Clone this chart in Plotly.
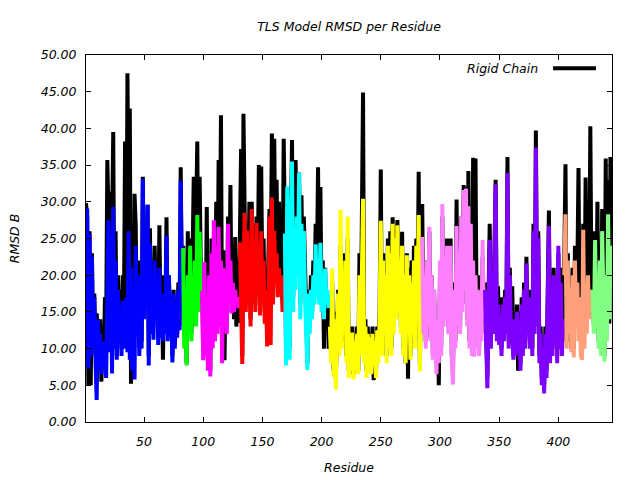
import plotly.graph_objects as go

# ---------------- data ----------------
title_text = "TLS Model RMSD per Residue"
x_label = "Residue"
y_label = "RMSD B"
legend_label = "Rigid Chain"
x_ticks = [50, 100, 150, 200, 250, 300, 350, 400]
y_ticks = [0, 5, 10, 15, 20, 25, 30, 35, 40, 45, 50]

# Rigid chain RMSD per residue (residues 1..445)
rigid_chain = [
    # 1-82
    29.8, 28.0, 5.0, 26.0, 5.0, 23.0, 11.0, 17.5, 9.0, 14.8,
    12.2, 9.5, 14.0, 5.5, 12.0, 8.0, 17.0, 12.0, 35.7, 28.3,
    31.4, 10.0, 26.0, 39.5, 12.0, 26.0, 9.0, 20.0, 12.0, 18.0,
    10.0, 20.0, 14.0, 38.2, 12.0, 47.5, 27.0, 42.7, 5.2, 22.0,
    8.0, 31.1, 26.8, 12.0, 22.0, 10.0, 18.0, 11.0, 33.4, 15.0,
    26.0, 16.0, 29.6, 9.0, 26.4, 13.0, 20.0, 14.0, 24.0, 16.0,
    20.0, 12.0, 26.8, 13.0, 20.0, 8.5, 19.0, 14.0, 27.9, 12.0,
    20.0, 14.0, 17.0, 9.0, 18.0, 11.0, 16.0, 12.0, 19.0, 13.0,
    34.7, 18.0,
    # 83-98
    24.0, 12.0, 20.0, 8.0, 26.0, 14.0, 25.0, 12.0, 22.0, 33.4,
    18.0, 30.0, 38.2, 16.0, 33.4, 20.0,
    # 99-130
    20.0, 9.7, 20.0, 10.0, 29.3, 8.0, 22.0, 7.0, 25.0, 11.0,
    25.2, 12.0, 30.0, 14.0, 35.7, 20.0, 41.8, 9.0, 23.4, 8.4,
    20.0, 14.0, 28.0, 17.0, 32.3, 15.0, 24.0, 14.0, 25.2, 13.0,
    20.0, 13.5,
    # 131-168
    25.0, 37.2, 9.0, 42.0, 29.0, 16.0, 27.0, 17.0, 30.0, 14.0,
    30.0, 18.0, 27.0, 16.0, 28.0, 20.0, 35.0, 16.0, 34.8, 18.0,
    25.0, 15.0, 20.0, 12.0, 22.0, 29.0, 20.0, 39.3, 25.0, 38.6,
    22.0, 33.0, 19.0, 30.0, 20.0, 28.0, 17.0, 38.6,
    # 169-206
    26.0, 9.0, 32.0, 14.0, 10.0, 25.0, 38.4, 17.0, 30.0, 35.7,
    29.0, 22.0, 34.0, 16.0, 30.9, 20.0, 28.0, 17.0, 15.0, 8.0,
    18.0, 13.0, 20.0, 15.0, 22.0, 18.0, 27.0, 20.0, 34.7, 17.0,
    32.0, 16.0, 22.0, 10.0, 21.0, 14.0, 17.5, 10.0,
    # 207-284
    14.0, 9.0, 19.0, 7.0, 15.0, 6.0, 13.0, 18.0, 10.0, 24.0,
    11.0, 23.0, 14.0, 22.0, 9.0, 25.0, 7.0, 13.0, 8.0, 13.0,
    6.5, 12.0, 8.0, 13.0, 7.0, 23.0, 10.0, 39.0, 44.9, 9.0,
    14.0, 7.0, 13.0, 7.5, 12.0, 7.0, 13.0, 5.7, 12.0, 7.0,
    13.0, 9.0, 15.0, 34.4, 10.0, 23.0, 12.0, 21.0, 9.0, 25.0,
    11.0, 26.0, 10.0, 27.9, 13.0, 26.0, 15.0, 27.5, 16.0, 23.0,
    13.0, 25.9, 10.0, 21.0, 8.0, 23.0, 5.9, 21.0, 9.0, 22.0,
    13.0, 24.0, 11.0, 25.0, 15.0, 34.1, 8.0, 19.0,
    # 285-337
    29.7, 13.0, 20.0, 11.0, 22.0, 13.0, 26.0, 11.5, 20.0, 9.0,
    18.0, 10.5, 8.0, 14.0, 5.0, 20.0, 10.0, 28.0, 14.0, 21.0,
    15.0, 25.0, 13.0, 21.0, 25.0, 9.0, 7.0, 19.0, 11.0, 30.3,
    14.0, 23.0, 13.0, 28.0, 16.0, 32.3, 19.0, 32.0, 14.0, 34.2,
    11.0, 28.0, 10.0, 36.0, 10.0, 35.9, 13.0, 20.0, 10.0, 17.0,
    12.0, 22.5, 15.0,
    # 338-404
    19.0, 10.0, 6.0, 17.0, 27.0, 12.0, 21.0, 13.0, 23.0, 33.0,
    12.0, 18.5, 11.0, 17.0, 10.0, 17.0, 12.0, 18.0, 13.0, 36.1,
    11.0, 21.0, 12.0, 18.5, 9.0, 15.0, 10.0, 16.0, 7.0, 15.0,
    8.0, 17.0, 10.0, 19.0, 11.0, 22.5, 13.0, 18.0, 11.0, 17.0,
    10.0, 27.0, 13.0, 39.7, 15.0, 26.0, 9.0, 13.0, 6.0, 11.0,
    5.0, 13.0, 7.0, 16.0, 28.8, 9.0, 19.0, 10.0, 21.0, 13.0,
    18.0, 9.0, 23.0, 11.0, 21.0, 10.0, 15.0,
    # 405-428
    22.0, 35.1, 11.0, 23.0, 13.0, 19.0, 10.0, 21.0, 10.0, 24.0,
    14.0, 20.0, 34.6, 12.0, 18.0, 10.0, 27.0, 12.0, 33.3, 14.0,
    30.0, 16.0, 40.3, 17.0,
    # 429-445
    19.0, 13.0, 26.0, 14.0, 30.0, 11.0, 24.0, 10.0, 29.0, 13.0,
    9.0, 35.9, 12.0, 33.0, 13.4, 36.1, 30.0,
]

# TLS group RMSD per residue
tls_group_1 = [
    17.5, 29.1, 7.3, 25.6, 9.0, 22.5, 10.0, 17.0, 8.5, 3.0,
    14.0, 9.0, 12.0, 6.5, 11.0, 8.0, 10.2, 6.0, 16.5, 27.5,
    9.5, 25.6, 6.6, 29.3, 10.0, 22.0, 8.5, 18.0, 11.0, 15.0,
    9.0, 16.5, 10.0, 14.0, 17.0, 9.5, 26.0, 8.5, 21.0, 7.0,
    18.0, 5.8, 24.0, 12.0, 20.0, 9.0, 15.5, 10.0, 33.1, 14.0,
    25.0, 15.5, 29.6, 7.7, 24.3, 12.0, 20.0, 11.2, 22.0, 15.0,
    19.0, 10.5, 21.0, 11.5, 16.0, 11.0, 17.5, 12.0, 25.4, 11.0,
    20.0, 13.0, 15.5, 8.1, 17.5, 10.0, 14.0, 11.5, 18.0, 12.5,
    32.9, 17.0,
]
tls_group_2 = [
    23.7, 10.0, 18.0, 7.7, 20.0, 12.0, 24.0, 11.0, 19.0, 14.0,
    22.0, 13.0, 28.2, 15.0, 25.9, 17.0,
]
tls_group_3 = [
    17.9, 8.4, 21.8, 9.0, 17.0, 7.0, 20.0, 6.2, 23.0, 10.0,
    27.5, 11.0, 24.0, 12.0, 26.6, 13.0, 22.0, 8.0, 21.0, 15.0,
    19.0, 12.0, 27.0, 16.0, 22.0, 14.8, 19.0, 15.0, 18.0, 16.0,
    17.0, 15.5,
]
tls_group_4 = [
    24.5, 14.0, 7.9, 20.0, 28.5, 15.0, 26.1, 16.6, 22.0, 13.0,
    29.0, 17.0, 25.0, 15.0, 27.1, 18.0, 24.0, 14.5, 26.0, 16.0,
    22.0, 13.4, 18.0, 10.3, 12.0, 28.0, 10.5, 30.6, 16.0, 26.0,
    19.0, 23.0, 17.0, 21.0, 18.0, 20.0, 15.0, 19.5,
]
tls_group_5 = [
    25.7, 7.7, 32.1, 12.0, 8.5, 22.0, 35.5, 15.0, 26.0, 18.0,
    28.0, 20.0, 34.0, 14.0, 27.0, 18.0, 26.0, 17.0, 13.4, 7.1,
    17.5, 12.0, 18.0, 14.0, 20.0, 16.0, 24.2, 17.0, 22.0, 16.0,
    24.4, 15.0, 19.0, 14.0, 20.9, 16.0, 18.0, 15.5,
]
tls_group_6 = [
    13.0, 8.0, 20.9, 6.2, 14.0, 4.4, 12.0, 17.5, 9.0, 28.9,
    10.0, 20.0, 13.0, 22.0, 8.0, 28.0, 6.0, 12.0, 7.0, 12.2,
    5.8, 11.0, 7.0, 12.0, 6.5, 20.0, 9.0, 24.0, 30.4, 8.0,
    13.0, 6.0, 12.0, 7.0, 11.5, 6.5, 12.0, 8.0, 11.0, 6.0,
    12.5, 8.0, 14.0, 27.4, 9.0, 22.0, 12.0, 20.0, 8.0, 24.0,
    10.0, 23.0, 9.0, 27.0, 12.0, 25.0, 14.0, 26.8, 15.0, 22.0,
    12.0, 24.0, 9.0, 20.0, 8.0, 22.7, 13.0, 20.0, 8.5, 19.0,
    12.0, 22.0, 10.0, 24.0, 14.0, 28.2, 6.9, 18.0,
]
tls_group_7 = [
    25.2, 12.0, 19.0, 10.0, 22.0, 13.0, 26.6, 11.0, 20.0, 8.5,
    18.0, 10.0, 6.5, 14.0, 8.0, 22.0, 9.0, 29.7, 13.0, 20.0,
    14.0, 24.0, 12.0, 20.0, 24.0, 8.0, 5.1, 18.0, 10.0, 26.7,
    13.0, 22.0, 12.0, 28.0, 15.0, 31.6, 18.0, 31.8, 13.0, 29.4,
    10.0, 27.0, 9.0, 22.0, 8.9, 20.0, 12.0, 18.0, 9.0, 16.0,
    11.0, 24.8, 14.0,
]
tls_group_8 = [
    18.0, 9.0, 4.6, 15.0, 24.8, 10.0, 20.0, 12.0, 22.0, 32.4,
    11.0, 16.0, 10.5, 14.0, 9.0, 16.0, 11.0, 17.0, 12.0, 33.9,
    10.0, 20.0, 11.0, 13.0, 8.5, 14.0, 9.0, 15.0, 10.0, 13.5,
    7.0, 16.0, 9.0, 18.0, 10.0, 21.6, 12.0, 17.0, 10.0, 16.0,
    9.0, 26.0, 12.0, 37.4, 14.0, 25.0, 8.0, 12.0, 5.0, 10.0,
    3.9, 12.0, 6.0, 15.0, 26.7, 8.0, 18.0, 9.0, 20.0, 12.0,
    17.0, 8.0, 24.0, 10.0, 19.0, 9.0, 14.0,
]
tls_group_9 = [
    20.0, 28.3, 10.0, 22.0, 12.0, 18.0, 9.5, 20.0, 8.8, 22.0,
    13.0, 19.0, 11.0, 17.0, 9.0, 8.5, 26.2, 10.0, 18.0, 12.0,
    20.0, 14.0, 18.0, 15.0,
]
tls_group_10 = [
    18.0, 12.0, 24.8, 13.0, 20.0, 10.0, 22.0, 9.0, 26.0, 12.0,
    8.2, 20.0, 11.0, 28.3, 14.0, 24.0, 18.0,
]

# (first residue, colour, values)
tls_groups = [
    (1, "#0000ff", tls_group_1),
    (83, "#00ff00", tls_group_2),
    (99, "#ff00ff", tls_group_3),
    (131, "#ff0000", tls_group_4),
    (169, "#00ffff", tls_group_5),
    (207, "#ffff00", tls_group_6),
    (285, "#ff80ff", tls_group_7),
    (338, "#8000ff", tls_group_8),
    (405, "#ffa07a", tls_group_9),
    (429, "#80ff80", tls_group_10),
]

# ---------------- figure ----------------
FONT = "DejaVu Sans"
LW = 4

fig = go.Figure()
residues = list(range(1, len(rigid_chain) + 1))
fig.add_trace(go.Scatter(
    x=residues, y=rigid_chain, mode="lines", name=legend_label,
    line=dict(color="black", width=LW), showlegend=False,
))
for start, colour, vals in tls_groups:
    fig.add_trace(go.Scatter(
        x=list(range(start, start + len(vals))), y=vals, mode="lines",
        line=dict(color=colour, width=LW), showlegend=False,
    ))

tick_font = dict(family=FONT, size=12.5, color="black", style="italic")

fig.update_layout(
    width=640, height=480,
    margin=dict(l=86, r=28, t=55, b=58),
    paper_bgcolor="white", plot_bgcolor="white",
    title=dict(text=title_text, x=349 / 640, xanchor="center",
               y=1 - 27 / 480, yanchor="middle",
               font=dict(family=FONT, size=12.5, color="black", style="italic")),
    showlegend=False,
)
fig.update_xaxes(
    range=[1, 445.3], tickvals=x_ticks, ticktext=[str(v) for v in x_ticks],
    ticks="inside", ticklen=5, tickwidth=1, tickcolor="black",
    showline=True, linecolor="black", linewidth=1, mirror="ticks",
    showgrid=False, zeroline=False, tickfont=tick_font, ticklabelstandoff=8,
    automargin=False,
    title=dict(text=x_label, font=tick_font, standoff=15),
)
fig.update_yaxes(
    range=[0, 50], tickvals=y_ticks, ticktext=[f"{v:.2f}" for v in y_ticks],
    ticks="inside", ticklen=5, tickwidth=1, tickcolor="black",
    showline=True, linecolor="black", linewidth=1, mirror="ticks",
    showgrid=False, zeroline=False, tickfont=tick_font, ticklabelstandoff=6,
    automargin=False,
    title=dict(text=y_label, font=tick_font, standoff=18),
)

# legend drawn gnuplot-style: text then line sample
fig.add_annotation(
    x=0.8633, y=0.9638, xref="paper", yref="paper", xanchor="right", yanchor="middle",
    text=legend_label, showarrow=False, font=tick_font,
)
fig.add_shape(
    type="line", xref="paper", yref="paper", x0=0.888, x1=0.9696, y0=0.9638, y1=0.9638,
    line=dict(color="black", width=LW),
)

fig.write_html("out.html")
